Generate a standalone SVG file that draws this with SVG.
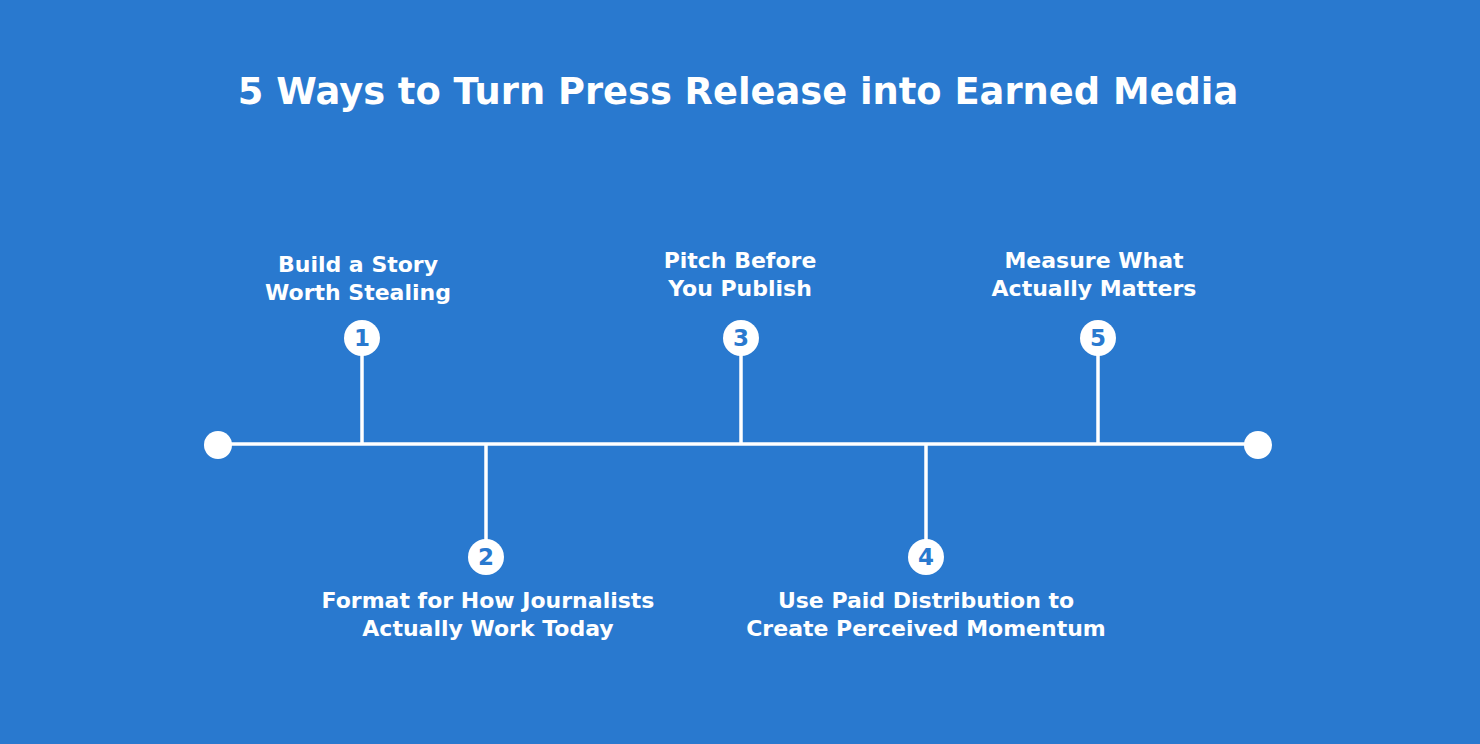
<svg xmlns="http://www.w3.org/2000/svg" width="1480" height="744" viewBox="0 0 1480 744">
<style>
.title{font-family:"DejaVu Sans","Noto Sans",sans-serif;font-weight:bold;font-size:36.8px;fill:#fff;text-anchor:middle}
.lbl{font-family:"DejaVu Sans","Noto Sans",sans-serif;font-weight:600;font-size:22px;fill:#fff;text-anchor:middle}
.num{font-family:"DejaVu Sans","Noto Sans",sans-serif;font-weight:bold;font-size:23px;fill:#2979cf;text-anchor:middle}
.ln{stroke:#fff;stroke-width:3.5;fill:none}
.dot{fill:#fff}
</style>
<rect width="1480" height="744" fill="#2979cf"/>
<text class="title" x="738" y="104">5 Ways to Turn Press Release into Earned Media</text>
<g id="connectors">
<line class="ln" x1="218" y1="444" x2="1258" y2="444"/>
<line class="ln" x1="362" y1="338" x2="362" y2="444"/>
<line class="ln" x1="486" y1="444" x2="486" y2="557"/>
<line class="ln" x1="741" y1="338" x2="741" y2="444"/>
<line class="ln" x1="926" y1="444" x2="926" y2="557"/>
<line class="ln" x1="1098" y1="338" x2="1098" y2="444"/>
</g>
<g id="start"><circle class="dot" cx="218" cy="445" r="14"/></g>
<g id="end"><circle class="dot" cx="1258" cy="445" r="14"/></g>
<g id="step1">
<circle class="dot" cx="362" cy="338" r="18"/>
<text class="num" x="362" y="346">1</text>
<text class="lbl" x="358" y="272">Build a Story</text>
<text class="lbl" x="358" y="300">Worth Stealing</text>
</g>
<g id="step2">
<circle class="dot" cx="486" cy="557" r="18"/>
<text class="num" x="486" y="565">2</text>
<text class="lbl" x="488" y="608">Format for How Journalists</text>
<text class="lbl" x="488" y="636">Actually Work Today</text>
</g>
<g id="step3">
<circle class="dot" cx="741" cy="338" r="18"/>
<text class="num" x="741" y="346">3</text>
<text class="lbl" x="740" y="268">Pitch Before</text>
<text class="lbl" x="740" y="296">You Publish</text>
</g>
<g id="step4">
<circle class="dot" cx="926" cy="557" r="18"/>
<text class="num" x="926" y="565">4</text>
<text class="lbl" x="926" y="608">Use Paid Distribution to</text>
<text class="lbl" x="926" y="636">Create Perceived Momentum</text>
</g>
<g id="step5">
<circle class="dot" cx="1098" cy="338" r="18"/>
<text class="num" x="1098" y="346">5</text>
<text class="lbl" x="1094" y="268">Measure What</text>
<text class="lbl" x="1094" y="296">Actually Matters</text>
</g>
</svg>
